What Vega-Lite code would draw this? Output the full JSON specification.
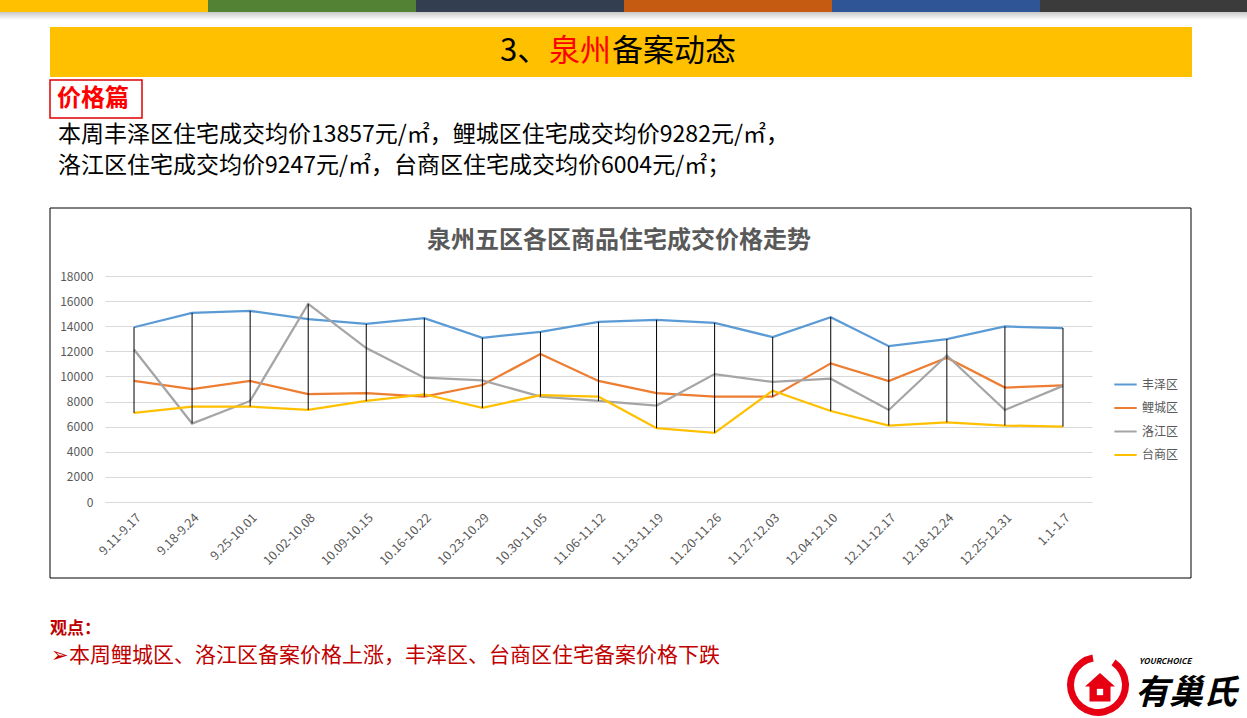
{
  "$schema": "https://vega.github.io/schema/vega-lite/v6.json",
  "width": 987,
  "height": 226,
  "autosize": {"type": "none"},
  "padding": {"left": 105, "top": 276, "right": 155, "bottom": 216},
  "background": "white",
  "config": {
    "font": "Noto Sans CJK SC",
    "view": {"stroke": null},
    "axisX": {"title": null, "labelAngle": -45, "labelFontSize": 12.5, "labelColor": "#595959", "labelPadding": 9, "ticks": false, "domainColor": "#D9D9D9", "grid": false, "labelOverlap": false},
    "axisY": {"title": null, "labelFontSize": 12, "labelColor": "#595959", "labelPadding": 12, "ticks": false, "domain": false, "gridColor": "#D9D9D9", "labelOverlap": false}
  },
  "datasets": {
    "prices": [
      {"week": "9.11-9.17", "district": "丰泽区", "value": 13920},
      {"week": "9.18-9.24", "district": "丰泽区", "value": 15060},
      {"week": "9.25-10.01", "district": "丰泽区", "value": 15220},
      {"week": "10.02-10.08", "district": "丰泽区", "value": 14560},
      {"week": "10.09-10.15", "district": "丰泽区", "value": 14190},
      {"week": "10.16-10.22", "district": "丰泽区", "value": 14640},
      {"week": "10.23-10.29", "district": "丰泽区", "value": 13080},
      {"week": "10.30-11.05", "district": "丰泽区", "value": 13550},
      {"week": "11.06-11.12", "district": "丰泽区", "value": 14350},
      {"week": "11.13-11.19", "district": "丰泽区", "value": 14510},
      {"week": "11.20-11.26", "district": "丰泽区", "value": 14270},
      {"week": "11.27-12.03", "district": "丰泽区", "value": 13130},
      {"week": "12.04-12.10", "district": "丰泽区", "value": 14720},
      {"week": "12.11-12.17", "district": "丰泽区", "value": 12410},
      {"week": "12.18-12.24", "district": "丰泽区", "value": 12970},
      {"week": "12.25-12.31", "district": "丰泽区", "value": 13980},
      {"week": "1.1-1.7", "district": "丰泽区", "value": 13857},
      {"week": "9.11-9.17", "district": "鲤城区", "value": 9640},
      {"week": "9.18-9.24", "district": "鲤城区", "value": 9000},
      {"week": "9.25-10.01", "district": "鲤城区", "value": 9640},
      {"week": "10.02-10.08", "district": "鲤城区", "value": 8600},
      {"week": "10.09-10.15", "district": "鲤城区", "value": 8680},
      {"week": "10.16-10.22", "district": "鲤城区", "value": 8390},
      {"week": "10.23-10.29", "district": "鲤城区", "value": 9320},
      {"week": "10.30-11.05", "district": "鲤城区", "value": 11780},
      {"week": "11.06-11.12", "district": "鲤城区", "value": 9640},
      {"week": "11.13-11.19", "district": "鲤城区", "value": 8680},
      {"week": "11.20-11.26", "district": "鲤城区", "value": 8390},
      {"week": "11.27-12.03", "district": "鲤城区", "value": 8390},
      {"week": "12.04-12.10", "district": "鲤城区", "value": 11040},
      {"week": "12.11-12.17", "district": "鲤城区", "value": 9640},
      {"week": "12.18-12.24", "district": "鲤城区", "value": 11490},
      {"week": "12.25-12.31", "district": "鲤城区", "value": 9110},
      {"week": "1.1-1.7", "district": "鲤城区", "value": 9282},
      {"week": "9.11-9.17", "district": "洛江区", "value": 12150},
      {"week": "9.18-9.24", "district": "洛江区", "value": 6250},
      {"week": "9.25-10.01", "district": "洛江区", "value": 8050},
      {"week": "10.02-10.08", "district": "洛江区", "value": 15780},
      {"week": "10.09-10.15", "district": "洛江区", "value": 12260},
      {"week": "10.16-10.22", "district": "洛江区", "value": 9900},
      {"week": "10.23-10.29", "district": "洛江区", "value": 9690},
      {"week": "10.30-11.05", "district": "洛江区", "value": 8390},
      {"week": "11.06-11.12", "district": "洛江区", "value": 8050},
      {"week": "11.13-11.19", "district": "洛江区", "value": 7680},
      {"week": "11.20-11.26", "district": "洛江区", "value": 10190},
      {"week": "11.27-12.03", "district": "洛江区", "value": 9560},
      {"week": "12.04-12.10", "district": "洛江区", "value": 9820},
      {"week": "12.11-12.17", "district": "洛江区", "value": 7330},
      {"week": "12.18-12.24", "district": "洛江区", "value": 11670},
      {"week": "12.25-12.31", "district": "洛江区", "value": 7330},
      {"week": "1.1-1.7", "district": "洛江区", "value": 9247},
      {"week": "9.11-9.17", "district": "台商区", "value": 7090},
      {"week": "9.18-9.24", "district": "台商区", "value": 7600},
      {"week": "9.25-10.01", "district": "台商区", "value": 7600},
      {"week": "10.02-10.08", "district": "台商区", "value": 7330},
      {"week": "10.09-10.15", "district": "台商区", "value": 8050},
      {"week": "10.16-10.22", "district": "台商区", "value": 8580},
      {"week": "10.23-10.29", "district": "台商区", "value": 7490},
      {"week": "10.30-11.05", "district": "台商区", "value": 8520},
      {"week": "11.06-11.12", "district": "台商区", "value": 8390},
      {"week": "11.13-11.19", "district": "台商区", "value": 5880},
      {"week": "11.20-11.26", "district": "台商区", "value": 5510},
      {"week": "11.27-12.03", "district": "台商区", "value": 8870},
      {"week": "12.04-12.10", "district": "台商区", "value": 7250},
      {"week": "12.11-12.17", "district": "台商区", "value": 6090},
      {"week": "12.18-12.24", "district": "台商区", "value": 6350},
      {"week": "12.25-12.31", "district": "台商区", "value": 6090},
      {"week": "1.1-1.7", "district": "台商区", "value": 6004}
    ]
  },
  "layer": [
    {
      "data": {"values": [{}]},
      "mark": {"type": "rect", "x": -55, "x2": 1086, "y": -68, "y2": 302, "fill": "transparent", "stroke": "#000000", "strokeWidth": 1},
      "encoding": {}
    },
    {
      "data": {"values": [{}]},
      "mark": {"type": "rect", "x": -105, "x2": 103, "y": -276, "y2": -264, "fill": "#FFC000"},
      "encoding": {}
    },
    {
      "data": {"values": [{}]},
      "mark": {"type": "rect", "x": 103, "x2": 311, "y": -276, "y2": -264, "fill": "#548235"},
      "encoding": {}
    },
    {
      "data": {"values": [{}]},
      "mark": {"type": "rect", "x": 311, "x2": 519, "y": -276, "y2": -264, "fill": "#333F50"},
      "encoding": {}
    },
    {
      "data": {"values": [{}]},
      "mark": {"type": "rect", "x": 519, "x2": 727, "y": -276, "y2": -264, "fill": "#C55A11"},
      "encoding": {}
    },
    {
      "data": {"values": [{}]},
      "mark": {"type": "rect", "x": 727, "x2": 935, "y": -276, "y2": -264, "fill": "#2F5597"},
      "encoding": {}
    },
    {
      "data": {"values": [{}]},
      "mark": {"type": "rect", "x": 935, "x2": 1142, "y": -276, "y2": -264, "fill": "#3B3B3B"},
      "encoding": {}
    },
    {
      "data": {"values": [{}]},
      "mark": {"type": "rect", "x": -105, "x2": 1142, "y": -264, "y2": -256, "fill": {"gradient": "linear", "x1": 0, "y1": 0, "x2": 0, "y2": 1, "stops": [{"offset": 0, "color": "#C8C8C8"}, {"offset": 1, "color": "#FFFFFF"}]}},
      "encoding": {}
    },
    {
      "data": {"values": [{}]},
      "mark": {"type": "rect", "x": -55, "x2": 1087, "y": -249, "y2": -199, "fill": "#FFC000"},
      "encoding": {}
    },
    {
      "data": {"values": [{"t": "3、"}]},
      "mark": {"type": "text", "x": 395, "y": -224, "align": "left", "baseline": "middle", "fontSize": 31, "color": "#000000"},
      "encoding": {"text": {"field": "t"}}
    },
    {
      "data": {"values": [{"t": "泉州"}]},
      "mark": {"type": "text", "x": 444, "y": -224, "align": "left", "baseline": "middle", "fontSize": 31, "color": "#FF0000"},
      "encoding": {"text": {"field": "t"}}
    },
    {
      "data": {"values": [{"t": "备案动态"}]},
      "mark": {"type": "text", "x": 507, "y": -224, "align": "left", "baseline": "middle", "fontSize": 31, "color": "#000000"},
      "encoding": {"text": {"field": "t"}}
    },
    {
      "data": {"values": [{}]},
      "mark": {"type": "rect", "x": -55, "x2": 37, "y": -196, "y2": -158, "fill": "white", "stroke": "#E00000", "strokeWidth": 1.5},
      "encoding": {}
    },
    {
      "data": {"values": [{"t": "价格篇"}]},
      "mark": {"type": "text", "x": -48, "y": -177, "align": "left", "baseline": "middle", "fontSize": 24, "fontWeight": "bold", "color": "#FF0000"},
      "encoding": {"text": {"field": "t"}}
    },
    {
      "data": {"values": [{"t": "本周丰泽区住宅成交均价13857元/㎡，鲤城区住宅成交均价9282元/㎡，"}]},
      "mark": {"type": "text", "x": -47, "y": -141, "align": "left", "baseline": "middle", "fontSize": 23, "color": "#000000"},
      "encoding": {"text": {"field": "t"}}
    },
    {
      "data": {"values": [{"t": "洛江区住宅成交均价9247元/㎡，台商区住宅成交均价6004元/㎡；"}]},
      "mark": {"type": "text", "x": -47, "y": -110, "align": "left", "baseline": "middle", "fontSize": 23, "color": "#000000"},
      "encoding": {"text": {"field": "t"}}
    },
    {
      "data": {"values": [{"t": "泉州五区各区商品住宅成交价格走势"}]},
      "mark": {"type": "text", "x": 514, "y": -35, "align": "center", "baseline": "middle", "fontSize": 24, "fontWeight": "bold", "color": "#595959"},
      "encoding": {"text": {"field": "t"}}
    },
    {
      "data": {"values": [{"t": "观点："}]},
      "mark": {"type": "text", "x": -55, "y": 353, "align": "left", "baseline": "middle", "fontSize": 17, "fontWeight": "bold", "color": "#C00000"},
      "encoding": {"text": {"field": "t"}}
    },
    {
      "data": {"values": [{"t": "➢本周鲤城区、洛江区备案价格上涨，丰泽区、台商区住宅备案价格下跌"}]},
      "mark": {"type": "text", "x": -54, "y": 380, "align": "left", "baseline": "middle", "fontSize": 21, "color": "#C00000"},
      "encoding": {"text": {"field": "t"}}
    },
    {
      "data": {"values": [{}]},
      "mark": {"type": "arc", "x": 993, "y": 409, "radius": 31, "radius2": 24, "theta": 0.6, "theta2": 6.1, "color": "#E60012"},
      "encoding": {}
    },
    {
      "data": {"values": [{}]},
      "mark": {"type": "point", "x": 995, "y": 412, "shape": "M-1,-0.1 L0,-1 L1,-0.1 L0.7,-0.1 L0.7,0.9 L-0.7,0.9 L-0.7,-0.1 Z", "size": 900, "filled": true, "color": "#E60012", "opacity": 1},
      "encoding": {}
    },
    {
      "data": {"values": [{}]},
      "mark": {"type": "point", "x": 995, "y": 416, "shape": "square", "size": 40, "filled": true, "color": "#FFFFFF", "opacity": 1},
      "encoding": {}
    },
    {
      "data": {"values": [{"t": "YOURCHOICE"}]},
      "mark": {"type": "text", "x": 1034, "y": 386, "align": "left", "baseline": "middle", "fontSize": 8, "fontStyle": "italic", "fontWeight": "bold", "color": "#000000"},
      "encoding": {"text": {"field": "t"}}
    },
    {
      "data": {"values": [{"t": "有巢氏"}]},
      "mark": {"type": "text", "x": 1030, "y": 418, "align": "left", "baseline": "middle", "fontSize": 34, "fontStyle": "italic", "fontWeight": "bold", "color": "#000000"},
      "encoding": {"text": {"field": "t"}}
    },
    {
      "data": {"name": "prices"},
      "mark": {"type": "line", "strokeWidth": 2.25},
      "encoding": {
        "x": {
          "field": "week", "type": "ordinal",
          "sort": ["9.11-9.17", "9.18-9.24", "9.25-10.01", "10.02-10.08", "10.09-10.15", "10.16-10.22", "10.23-10.29", "10.30-11.05", "11.06-11.12", "11.13-11.19", "11.20-11.26", "11.27-12.03", "12.04-12.10", "12.11-12.17", "12.18-12.24", "12.25-12.31", "1.1-1.7"],
          "scale": {"type": "point", "padding": 0.5},
          "title": null
        },
        "y": {
          "field": "value", "type": "quantitative",
          "scale": {"domain": [0, 18000], "nice": false},
          "title": null,
          "axis": {"values": [0, 2000, 4000, 6000, 8000, 10000, 12000, 14000, 16000, 18000], "format": "d"}
        },
        "color": {
          "field": "district", "type": "nominal",
          "scale": {"domain": ["丰泽区", "鲤城区", "洛江区", "台商区"], "range": ["#5B9BD5", "#ED7D31", "#A5A5A5", "#FFC000"]},
          "legend": {"orient": "none", "legendX": 1008, "legendY": 96, "title": null, "symbolType": "stroke", "symbolStrokeWidth": 2, "symbolSize": 500, "labelFontSize": 12, "labelColor": "#595959", "labelOffset": 4, "rowPadding": 4.5, "padding": 0}
        }
      }
    },
    {
      "data": {"name": "prices"},
      "mark": {"type": "rule", "color": "#000000", "strokeWidth": 1},
      "encoding": {
        "x": {
          "field": "week", "type": "ordinal",
          "sort": ["9.11-9.17", "9.18-9.24", "9.25-10.01", "10.02-10.08", "10.09-10.15", "10.16-10.22", "10.23-10.29", "10.30-11.05", "11.06-11.12", "11.13-11.19", "11.20-11.26", "11.27-12.03", "12.04-12.10", "12.11-12.17", "12.18-12.24", "12.25-12.31", "1.1-1.7"],
          "scale": {"type": "point", "padding": 0.5},
          "title": null
        },
        "y": {
          "field": "value", "type": "quantitative", "aggregate": "max",
          "scale": {"domain": [0, 18000], "nice": false},
          "title": null,
          "axis": {"values": [0, 2000, 4000, 6000, 8000, 10000, 12000, 14000, 16000, 18000], "format": "d"}
        },
        "y2": {"field": "value", "aggregate": "min"}
      }
    }
  ]
}
